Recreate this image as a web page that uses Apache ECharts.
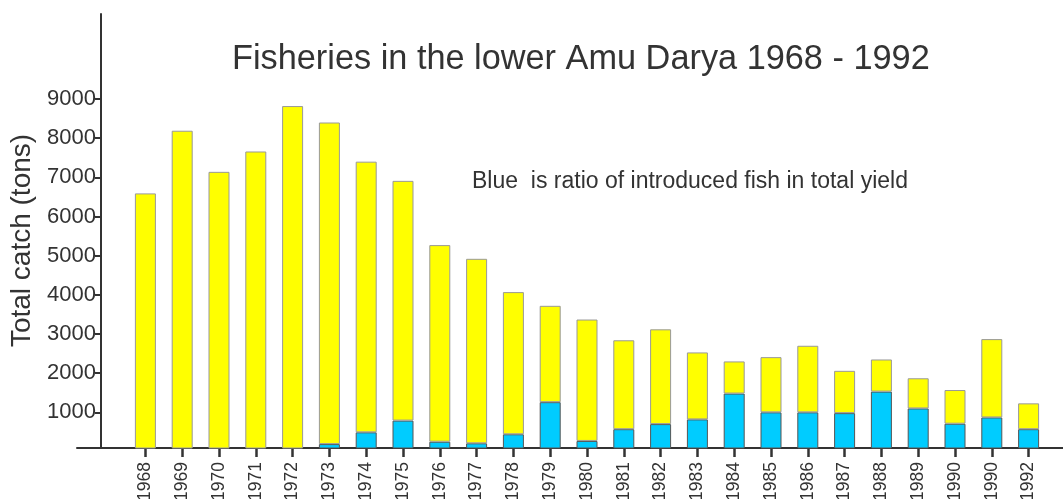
<!DOCTYPE html>
<html>
<head>
<meta charset="utf-8">
<script src="https://cdn.jsdelivr.net/npm/echarts@6/dist/echarts.min.js"></script>
<style>
  html, body { margin: 0; padding: 0; background: #fff; }
  #chart { width: 1063px; height: 499px; }
</style>
</head>
<body>
<div id="chart"></div>
<script>
// labels as printed under the bars (1990 appears twice in the original)
const years = ['1968', '1969', '1970', '1971', '1972', '1973', '1974', '1975', '1976', '1977',
  '1978', '1979', '1980', '1981', '1982', '1983', '1984', '1985', '1986', '1987',
  '1988', '1989', '1990', '1990', '1992'];
// total catch, tons
const totalCatch = [6590, 8190, 7140, 7660, 8820, 8400, 7400, 6910, 5270, 4920,
  4070, 3720, 3370, 2840, 3120, 2530, 2300, 2410, 2700, 2060,
  2350, 1870, 1570, 2870, 1230];
// part of it made of introduced fish (blue)
const introduced = [0, 0, 0, 0, 0, 190, 490, 790, 250, 210,
  440, 1260, 270, 570, 700, 820, 1480, 1000, 1000, 980,
  1530, 1100, 710, 870, 570];
const yTicks = [1000, 2000, 3000, 4000, 5000, 6000, 7000, 8000, 9000];

const native = totalCatch.map((t, i) => t - introduced[i]);

const chart = echarts.init(document.getElementById('chart'));
const font = 'Liberation Sans, Arial, sans-serif';

chart.setOption({
  animation: false,
  backgroundColor: '#fff',
  textStyle: { fontFamily: font },
  title: [
    {
      text: 'Fisheries in the lower Amu Darya 1968 - 1992',
      left: 232, top: 43, padding: 0,
      textStyle: { fontSize: 34.3, fontWeight: 'normal', color: '#333', fontFamily: font }
    },
    {
      text: 'Blue  is ratio of introduced fish in total yield',
      left: 472, top: 170, padding: 0,
      textStyle: { fontSize: 23, fontWeight: 'normal', color: '#333', fontFamily: font }
    }
  ],
  grid: [
    { left: 127, right: 16, top: 14, bottom: 51, outerBoundsMode: 'none' },
    { left: 77, right: 0, top: 14, bottom: 51, outerBoundsMode: 'none' } // only for the long base line
  ],
  xAxis: [
    {
      type: 'category',
      gridIndex: 0,
      data: years,
      axisLine: { show: false, onZero: false },
      axisTick: { show: true, alignWithLabel: true, length: 9, lineStyle: { color: '#333', width: 2.5 } },
      axisLabel: { rotate: 90, fontSize: 17.5, color: '#333', margin: 14, interval: 0, fontFamily: font }
    },
    {
      type: 'value',
      gridIndex: 1,
      axisLine: { show: true, onZero: false, lineStyle: { color: '#333', width: 2 } },
      axisTick: { show: false },
      axisLabel: { show: false },
      splitLine: { show: false }
    }
  ],
  yAxis: [
    {
      type: 'value',
      gridIndex: 0,
      min: 90,
      max: 11170,
      offset: 26,
      name: 'Total catch (tons)',
      nameLocation: 'middle',
      nameGap: 58,
      nameRotate: 90,
      nameTextStyle: { fontSize: 28, color: '#333', fontFamily: font, padding: [0, 19, 0, 0] },
      axisLine: { show: true, lineStyle: { color: '#333', width: 2 } },
      axisTick: { show: true, length: 6, customValues: yTicks, lineStyle: { color: '#333', width: 2 } },
      axisLabel: {
        fontSize: 22, color: '#333', margin: 5, customValues: yTicks, fontFamily: font,
        formatter: (v) => String(v)
      },
      splitLine: { show: false }
    },
    {
      type: 'value',
      gridIndex: 1,
      show: false
    }
  ],
  series: [
    {
      name: 'introduced',
      type: 'bar',
      stack: 'catch',
      barWidth: 21,
      data: introduced,
      itemStyle: { color: '#00ccff', borderColor: '#555', borderWidth: 1 }
    },
    {
      name: 'native',
      type: 'bar',
      stack: 'catch',
      barWidth: 21,
      data: native,
      itemStyle: { color: '#ffff00', borderColor: '#999', borderWidth: 1 }
    }
  ]
});
</script>
</body>
</html>
